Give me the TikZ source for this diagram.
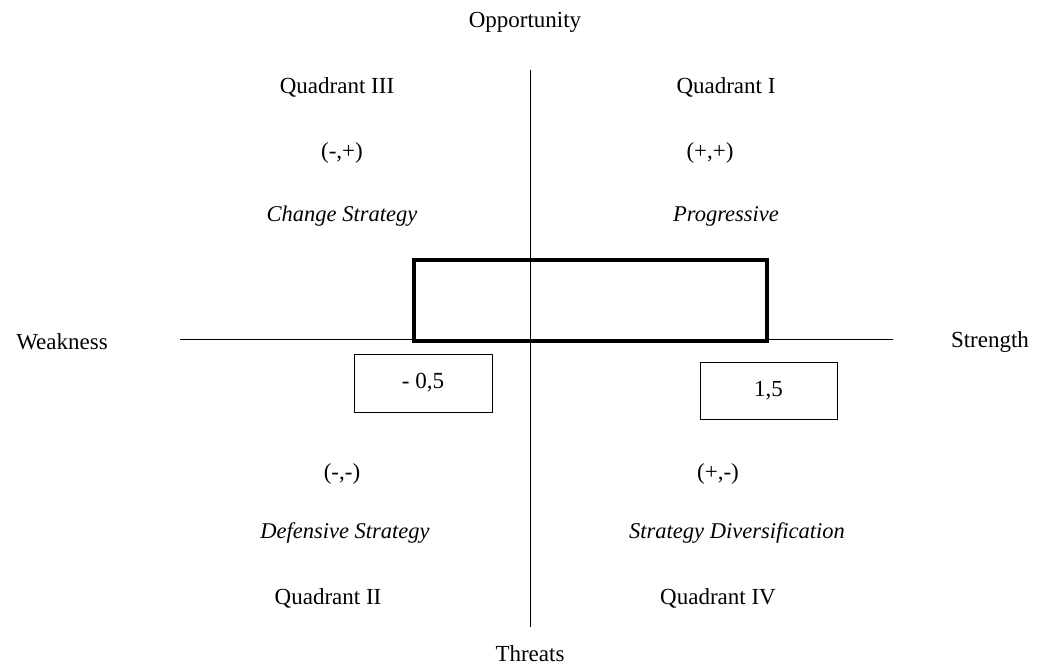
\documentclass[tikz,border=0pt]{standalone}
\usepackage{fontspec}
\setmainfont{Liberation Serif}
\begin{document}
\begin{tikzpicture}[x=1pt,y=-1pt,
  lbl/.style={inner sep=0pt,font=\fontsize{23}{27}\selectfont},
  ilbl/.style={lbl,font=\fontsize{22.5}{27}\selectfont\itshape},
  valbox/.style={draw,line width=1pt,inner sep=0pt,font=\fontsize{23}{27}\selectfont},
  axis/.style={line width=1pt}]
\useasboundingbox (0,0) rectangle (1043,671);
\coordinate (vt) at (530,70);
\coordinate (vb) at (530,627);
\coordinate (hl) at (180,339);
\coordinate (hr) at (893,339);
\draw[axis] (vt) -- (vb);
\draw[axis] (hl) -- (hr);
\node[draw,line width=4.5pt,minimum width=353pt,minimum height=81pt,inner sep=0pt] (pos) at (590.5,300.5) {};
\node[valbox,minimum width=138pt,minimum height=58pt] (wv) at (423,383) {- 0,5};
\node[valbox,minimum width=137pt,minimum height=57pt] (sv) at (768.5,390.5) {1,5};
\node[lbl] (opp) at (525,22) {Opportunity};
\node[lbl] (thr) at (530,654) {Threats};
\node[lbl] (weak) at (62,342) {Weakness};
\node[lbl] (str) at (990,342) {Strength};
\node[lbl] (q3) at (337,87) {Quadrant III};
\node[lbl] (q1) at (726,87) {Quadrant I};
\node[lbl] (s3) at (342,153) {(-,+)};
\node[lbl] (s1) at (710,153) {(+,+)};
\node[ilbl] (c3) at (342,216) {Change Strategy};
\node[ilbl] (c1) at (726,216) {Progressive};
\node[lbl] (s2) at (342,474) {(-,-)};
\node[lbl] (s4) at (718,474) {(+,-)};
\node[ilbl] (c2) at (345,533) {Defensive Strategy};
\node[ilbl] (c4) at (737,533) {Strategy Diversification};
\node[lbl] (q2) at (328,598) {Quadrant II};
\node[lbl] (q4) at (718,598) {Quadrant IV};
\end{tikzpicture}
\end{document}
